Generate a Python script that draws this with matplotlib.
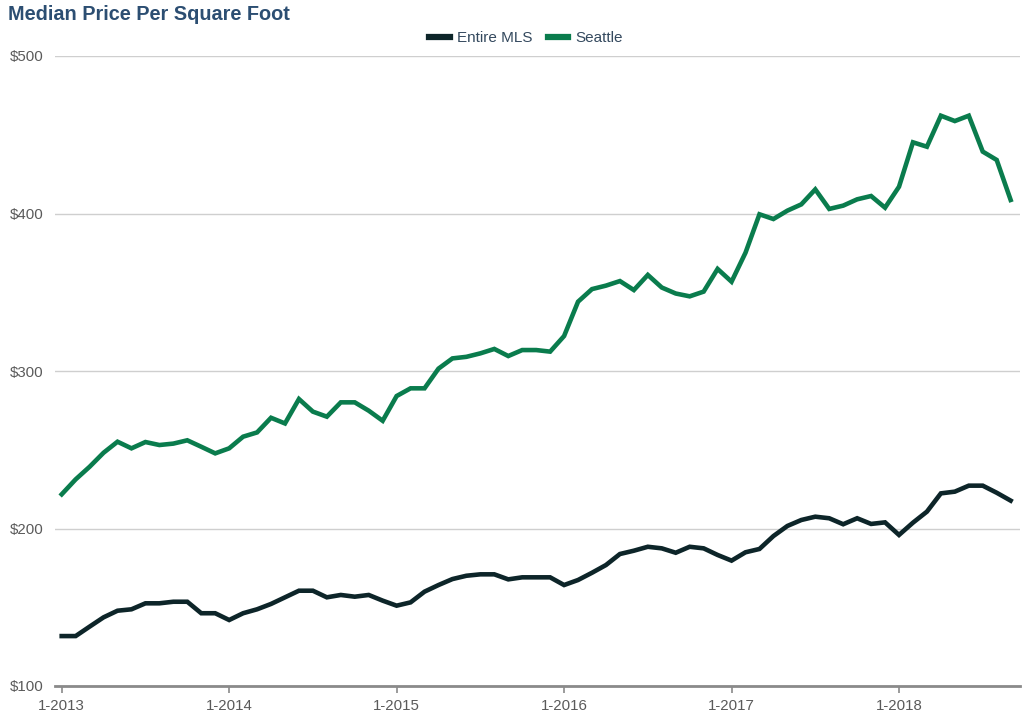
import matplotlib
matplotlib.use("Agg")
import matplotlib.pyplot as plt
from matplotlib.ticker import FixedLocator, FuncFormatter

# Monthly data, Jan 2013 .. Sep 2018
months = list(range(69))
entire_mls = [131.7, 131.7, 137.7, 143.6, 147.8, 148.7, 152.5, 152.5, 153.5, 153.5,
              146.2, 146.2, 141.9, 146.2, 148.7, 152.1, 156.3, 160.5, 160.5, 156.3,
              157.8, 156.7, 157.8, 154.2, 151.0, 153.1, 159.9, 164.1, 167.9, 170.0,
              170.9, 170.9, 167.7, 169.0, 169.0, 169.0, 164.1, 167.3, 171.9, 176.8,
              183.8, 185.9, 188.4, 187.4, 184.6, 188.4, 187.4, 183.2, 179.6, 184.9,
              187.0, 195.2, 201.6, 205.4, 207.5, 206.5, 202.7, 206.5, 202.9, 203.9,
              195.9, 203.7, 210.7, 222.3, 223.4, 227.2, 227.2, 222.7, 217.7]
seattle = [221.7, 231.2, 239.2, 248.1, 255.1, 250.9, 254.9, 253.0, 253.9, 256.0,
           251.9, 247.7, 250.9, 258.3, 261.0, 270.3, 266.7, 282.2, 274.2, 271.0,
           280.1, 280.1, 274.8, 268.4, 284.1, 289.0, 289.0, 301.5, 308.0, 309.0,
           311.2, 314.0, 309.5, 313.3, 313.3, 312.3, 322.2, 344.0, 352.0, 354.2,
           357.1, 351.4, 361.0, 353.0, 349.2, 347.4, 350.4, 364.8, 356.7, 375.1,
           399.5, 396.5, 401.8, 405.8, 415.3, 402.9, 405.0, 409.0, 411.1, 403.7,
           417.0, 445.2, 442.4, 462.1, 458.7, 462.1, 439.3, 434.0, 408.6]
x_tick_pos = [0, 12, 24, 36, 48, 60]
x_tick_labels = ["1-2013", "1-2014", "1-2015", "1-2016", "1-2017", "1-2018"]
y_ticks = [100, 200, 300, 400, 500]
series_names = ["Entire MLS", "Seattle"]

plt.rcParams['font.family'] = ['Liberation Sans', 'DejaVu Sans']

fig = plt.figure(figsize=(10.24, 7.14), dpi=100)
ax = fig.add_axes([55/1024, 1-686/714, 965/1024, 630/714])

c_mls = "#0d2529"
c_sea = "#0a7c4d"
ax.plot(months, entire_mls, color=c_mls, lw=3.3, solid_joinstyle='miter', label=series_names[0], zorder=3)
ax.plot(months, seattle, color=c_sea, lw=3.3, solid_joinstyle='miter', label=series_names[1], zorder=3)

ax.set_xlim(-0.48, 68.67)
ax.set_ylim(100, 500)

ax.yaxis.set_major_locator(FixedLocator(y_ticks))
ax.yaxis.set_major_formatter(FuncFormatter(lambda v, p: f"${int(v)}"))
ax.set_xticks(x_tick_pos)
ax.set_xticklabels(x_tick_labels)

for s in ["top", "right", "left"]:
    ax.spines[s].set_visible(False)
ax.spines["bottom"].set_color("#8a8a8a")
ax.spines["bottom"].set_linewidth(2.0)
ax.spines["bottom"].set_zorder(2)

ax.grid(axis='y', color="#cfcfcf", lw=1.0, zorder=0)
ax.set_axisbelow(True)
ax.tick_params(axis='y', length=0, pad=8, labelsize=10.8, labelcolor="#5a5a5a")
ax.tick_params(axis='x', length=5, width=1.2, color="#8a8a8a", pad=4, labelsize=10.8, labelcolor="#5a5a5a")

fig.text(8/1024, 1-15/714, "Median Price Per Square Foot", fontsize=14.3, fontweight='bold',
         color="#2c4e72", ha='left', va='center')

leg = fig.legend(loc='center', bbox_to_anchor=(526/1024, 1-38/714), ncol=2, frameon=False,
                 fontsize=11, handlelength=1.35, handletextpad=0.45, columnspacing=1.0)
for t in leg.get_texts():
    t.set_color("#34495e")
for h in leg.get_lines():
    h.set_linewidth(4.5)

fig.savefig("out.png", dpi=100)
